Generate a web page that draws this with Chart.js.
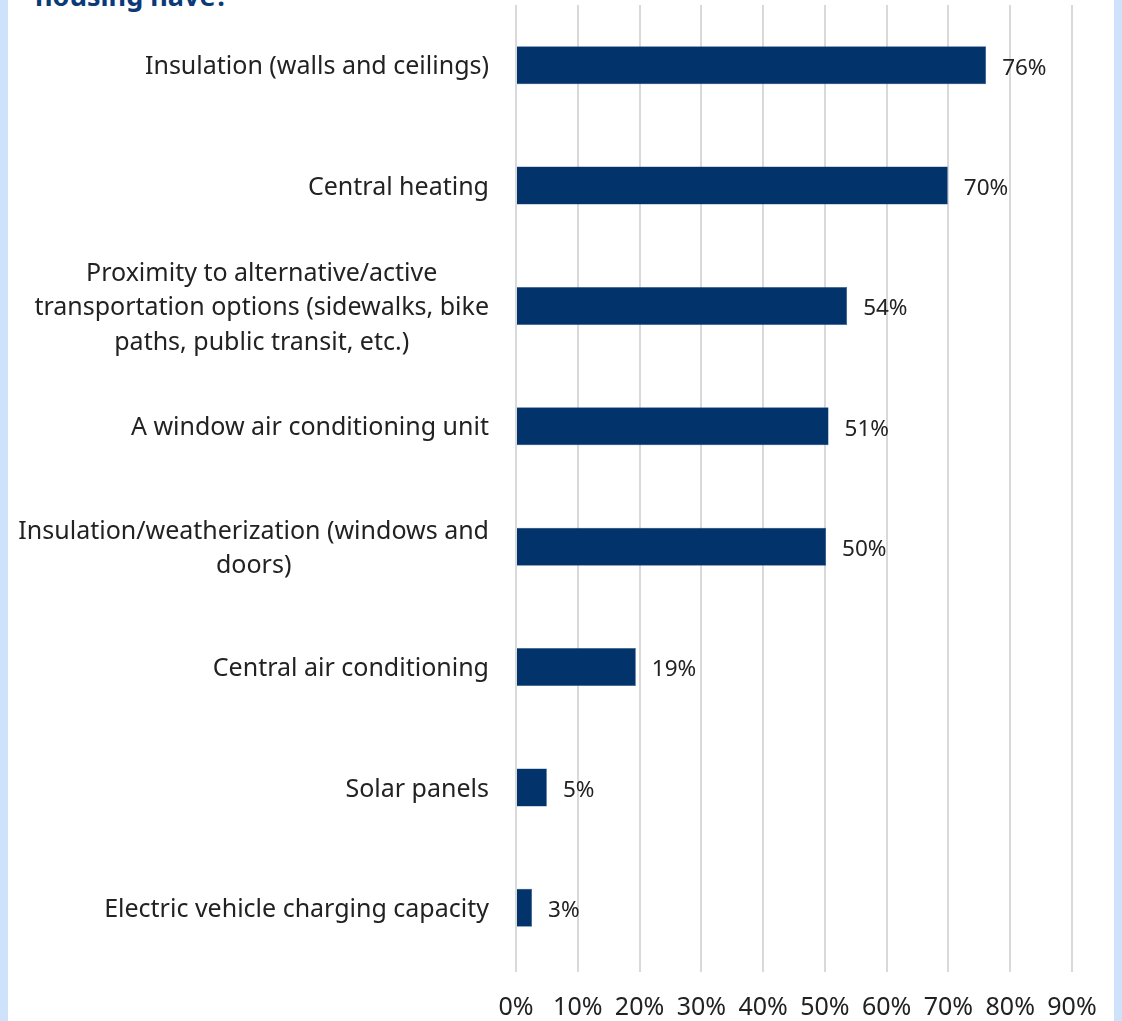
<!DOCTYPE html>
<html>
<head>
<meta charset="utf-8">
<script src="https://cdn.jsdelivr.net/npm/chart.js@4.4.1/dist/chart.umd.min.js"></script>
<style>
  html, body { margin: 0; padding: 0; }
  body { width: 1122px; height: 1021px; background: #cfe2fb; position: relative; overflow: hidden; font-family: "Noto Sans", "Open Sans", sans-serif; }
  #panel { position: absolute; left: 8px; top: 0; width: 1106px; height: 1021px; background: #ffffff; overflow: hidden; }
  #title { position: absolute; left: 27px; top: -21px; font-size: 27px; line-height: 34px; font-weight: bold; color: #0b3a78; white-space: nowrap; }
  #wrap { position: absolute; left: 0; top: 0; width: 1106px; height: 1021px; }
</style>
</head>
<body>
<div id="panel">
  <div id="title">housing have?</div>
  <div id="wrap"><canvas id="c"></canvas></div>
</div>
<script>
const categories = [
  "Insulation (walls and ceilings)",
  "Central heating",
  ["Proximity to alternative/active", "transportation options (sidewalks, bike", "paths, public transit, etc.)"],
  "A window air conditioning unit",
  ["Insulation/weatherization (windows and", "doors)"],
  "Central air conditioning",
  "Solar panels",
  "Electric vehicle charging capacity"
];
const values = [76.1, 69.9, 53.6, 50.6, 50.2, 19.4, 5.0, 2.6];
const valueLabels = ["76%", "70%", "54%", "51%", "50%", "19%", "5%", "3%"];
const xTicks = [0, 10, 20, 30, 40, 50, 60, 70, 80, 90];

const FONT = '"Noto Sans", "Open Sans", sans-serif';

const valueLabelPlugin = {
  id: 'valueLabels',
  afterDatasetsDraw(chart) {
    const ctx = chart.ctx;
    const meta = chart.getDatasetMeta(0);
    ctx.save();
    ctx.font = '22.5px ' + FONT;
    ctx.fillStyle = '#222222';
    ctx.textAlign = 'left';
    ctx.textBaseline = 'middle';
    meta.data.forEach((bar, i) => {
      ctx.fillText(valueLabels[i], bar.x + 16, bar.y + 3);
    });
    ctx.restore();
  }
};

// Category labels: single lines right-aligned, wrapped labels centred line by line (as in the source)
const categoryLabelPlugin = {
  id: 'categoryLabels',
  afterDraw(chart) {
    const ctx = chart.ctx;
    const yScale = chart.scales.y;
    const rightX = chart.chartArea.left - 27;
    const lineH = 34.5;
    ctx.save();
    ctx.font = '25px ' + FONT;
    ctx.fillStyle = '#222222';
    ctx.textBaseline = 'middle';
    categories.forEach((lab, i) => {
      const cy = yScale.getPixelForValue(i) + 2;
      if (Array.isArray(lab)) {
        const w = Math.max(...lab.map(s => ctx.measureText(s).width));
        const cx = rightX - w / 2;
        ctx.textAlign = 'center';
        const y0 = cy - (lab.length - 1) * lineH / 2;
        lab.forEach((s, k) => ctx.fillText(s, cx, y0 + k * lineH));
      } else {
        ctx.textAlign = 'right';
        ctx.fillText(lab, rightX, cy);
      }
    });
    ctx.restore();
  }
};

new Chart(document.getElementById('c'), {
  type: 'bar',
  data: {
    labels: categories,
    datasets: [{
      data: values,
      backgroundColor: '#02346b',
      borderColor: '#2a5a8e',
      borderWidth: 0.5,
      barPercentage: 0.8,
      categoryPercentage: 0.395
    }]
  },
  plugins: [valueLabelPlugin, categoryLabelPlugin],
  options: {
    indexAxis: 'y',
    responsive: true,
    maintainAspectRatio: false,
    animation: false,
    layout: { padding: { top: 5, right: 42, left: 0, bottom: 0 } },
    plugins: { legend: { display: false }, tooltip: { enabled: false } },
    scales: {
      x: {
        min: 0, max: 90,
        afterBuildTicks(axis) { axis.ticks = xTicks.map(v => ({ value: v })); },
        grid: { color: '#d9d9d9', lineWidth: 2, drawTicks: true, tickLength: 4 },
        border: { display: false },
        ticks: {
          padding: 21,
          color: '#222222',
          font: { family: FONT, size: 25 },
          maxRotation: 0, autoSkip: false,
          callback: (v) => v + '%'
        },
        afterFit(scale) {
          scale.height = 53;
          scale.paddingLeft = 0; scale.paddingRight = 0;
        }
      },
      y: {
        grid: { display: false, drawTicks: false },
        border: { display: false },
        ticks: {
          padding: 27,
          color: 'rgba(0,0,0,0)',
          font: { family: FONT, size: 25, lineHeight: 1.38 },
          autoSkip: false
        },
        afterFit(scale) {
          scale.width = 508;
          scale.paddingTop = 0; scale.paddingBottom = 0;
        }
      }
    }
  }
});
</script>
</body>
</html>
